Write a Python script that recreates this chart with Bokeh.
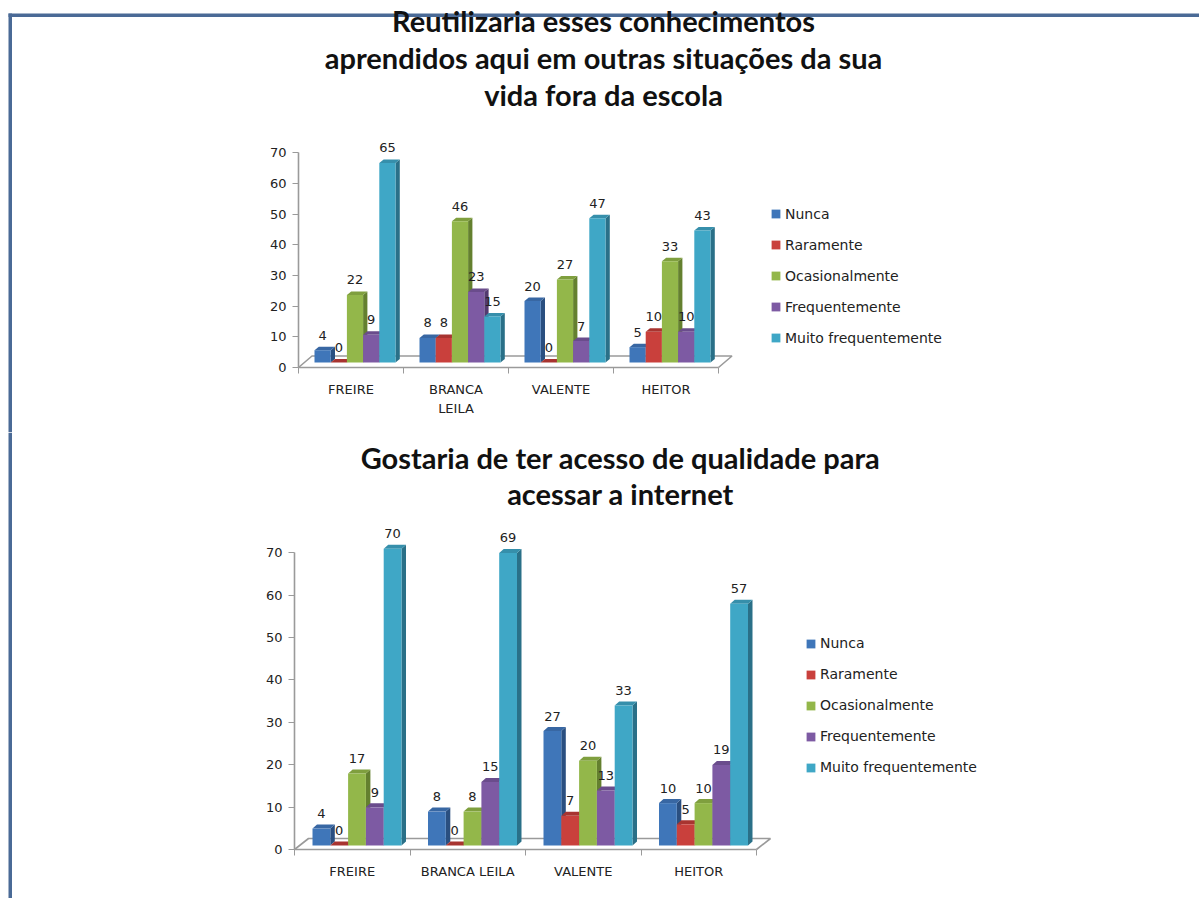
from bokeh.plotting import figure
from bokeh.layouts import column
from bokeh.models import BoxAnnotation, FixedTicker, Legend, LegendItem
from bokeh.core.properties import value
from bokeh.embed import file_html
from bokeh.resources import INLINE

series_names = ["Nunca", "Raramente", "Ocasionalmente", "Frequentemente", "Muito frequentemente"]
categories_a = ["FREIRE", "BRANCA\nLEILA", "VALENTE", "HEITOR"]
categories_b = ["FREIRE", "BRANCA LEILA", "VALENTE", "HEITOR"]

# values per series, one number per school
a_nunca = [4, 8, 20, 5]
a_raramente = [0, 8, 0, 10]
a_ocasionalmente = [22, 46, 27, 33]
a_frequentemente = [9, 23, 7, 10]
a_muito = [65, 15, 47, 43]

b_nunca = [4, 8, 27, 10]
b_raramente = [0, 0, 7, 5]
b_ocasionalmente = [17, 8, 20, 10]
b_frequentemente = [9, 15, 13, 19]
b_muito = [70, 69, 33, 57]

y_ticks = [0, 10, 20, 30, 40, 50, 60, 70]

title_a = ["Reutilizaria esses conhecimentos",
           "aprendidos aqui em outras situações da sua",
           "vida fora da escola"]
title_b = ["Gostaria de ter acesso de qualidade para",
           "acessar a internet"]

front_colors = ["#3f76b9", "#c9403c", "#93b74a", "#7d5aa3", "#3fa7c6"]
side_colors = ["#2a4f80", "#7e2b28", "#64802f", "#523a70", "#2a7088"]
top_colors = ["#3867a3", "#a83430", "#7f9f3e", "#6a4c8c", "#368fab"]

FONT = "DejaVu Sans"
TITLE_FONT = "Lato"
FRAME = "#4a6a96"
AXIS = "#9a9a9a"
TEXT = "#222222"
ORIGIN_X = 0
FIG_W = 1199


def chart(series, cats, title, title_cx, title_ys, page_top, page_bottom, ax_x, ax_y,
          cat_w, unit, bar_w, shift, base, depth_x, depth_y, floor_x, floor_y,
          legend_x, legend_first, legend_step, top_border):
    X = lambda px: (px - ax_x) / cat_w
    Y = lambda py: (ax_y - py) / unit
    p = figure(width=FIG_W, height=page_bottom - page_top, output_backend="svg",
               toolbar_location=None,
               x_range=(X(ORIGIN_X), X(ORIGIN_X + FIG_W)), y_range=(Y(page_bottom), Y(page_top)),
               min_border=0, min_border_left=0, min_border_right=0,
               min_border_top=0, min_border_bottom=0)
    p.grid.visible = False
    p.outline_line_color = None
    p.background_fill_color = "white"

    # page frame: annotations, which the plot frame does not clip, so the figures join
    p.add_layout(BoxAnnotation(left=X(8), right=X(11.5),
                               top=Y(13 if top_border else page_top), bottom=Y(page_bottom),
                               fill_color=FRAME, fill_alpha=1, line_color=None, level="underlay"))
    if top_border:
        p.add_layout(BoxAnnotation(left=X(8), right=X(1199), top=Y(13), bottom=Y(16.5),
                                   fill_color=FRAME, fill_alpha=1, line_color=None, level="underlay"))

    # floor
    n = len(cats)
    dxf, dyf = floor_x / cat_w, floor_y / unit
    p.line([0, dxf, n + dxf, n], [0, dyf, dyf, 0], line_color=AXIS, line_width=1.6)

    # bars
    dx, dy = depth_x / cat_w, depth_y / unit
    w = bar_w / cat_w
    b0 = base / unit
    off = shift / cat_w
    renderers = []
    label_x, label_y, label_t = [], [], []
    for s, vals in enumerate(series):
        cx = [i + 0.5 + off + (s - 2) * w for i in range(n)]
        side_xs = [[c + w / 2, c + w / 2 + dx, c + w / 2 + dx, c + w / 2] for c in cx]
        side_ys = [[b0, b0 + dy, b0 + v + dy, b0 + v] for v in vals]
        top_xs = [[c - w / 2, c - w / 2 + dx, c + w / 2 + dx, c + w / 2] for c in cx]
        top_ys = [[b0 + v, b0 + v + dy, b0 + v + dy, b0 + v] for v in vals]
        p.patches(side_xs, side_ys, fill_color=side_colors[s], line_color=None)
        p.patches(top_xs, top_ys, fill_color=top_colors[s], line_color=None)
        r = p.vbar(x=cx, top=[b0 + v for v in vals], bottom=b0, width=w,
                   fill_color=front_colors[s], line_color=None)
        renderers.append(r)
        label_x += cx
        label_y += [b0 + v for v in vals]
        label_t += [str(v) for v in vals]

    p.text(x=label_x, y=label_y, text=label_t, y_offset=-15,
           text_font=value(FONT), text_font_size="13px", text_color=TEXT,
           text_align="center", text_baseline="middle")

    # titles
    p.text(x=[X(title_cx)] * len(title), y=[Y(t) for t in title_ys], text=title,
           text_font=value(TITLE_FONT), text_font_style="bold", text_font_size="29px",
           text_color="#111111", text_align="center", text_baseline="middle")

    # axes
    xa = p.xaxis[0]
    xa.fixed_location = 0
    xa.bounds = (0, n)
    xa.ticker = FixedTicker(ticks=[i + 0.5 for i in range(n)], minor_ticks=list(range(n + 1)))
    xa.major_label_overrides = {i + 0.5: c for i, c in enumerate(cats)}
    xa.major_tick_out = 0
    xa.major_tick_in = 0
    xa.minor_tick_out = 6
    xa.minor_tick_in = 0
    xa.major_label_standoff = 8
    xa.major_label_text_line_height = 1.3
    ya = p.yaxis[0]
    ya.fixed_location = 0
    ya.bounds = (y_ticks[0], y_ticks[-1])
    ya.ticker = FixedTicker(ticks=y_ticks)
    ya.major_tick_out = 6
    ya.major_tick_in = 0
    ya.minor_tick_out = 0
    ya.minor_tick_in = 0
    ya.major_label_standoff = 6
    for a in (xa, ya):
        a.axis_line_color = AXIS
        a.axis_line_width = 1.6
        a.major_tick_line_color = AXIS
        a.minor_tick_line_color = AXIS
        a.major_label_text_font = FONT
        a.major_label_text_font_size = "13px"
        a.major_label_text_color = TEXT

    # legend
    legend = Legend(
        items=[LegendItem(label=nm, renderers=[r]) for nm, r in zip(series_names, renderers)],
        location=(legend_x - ORIGIN_X, page_bottom - (legend_first + 4 * legend_step + 8)),
        orientation="vertical", border_line_color=None, background_fill_alpha=0,
        padding=0, margin=0, spacing=int(round(legend_step - 16)), glyph_width=11, glyph_height=11,
        label_standoff=4, label_height=14, label_width=160,
        label_text_font=FONT, label_text_font_size="14px", label_text_color=TEXT)
    p.add_layout(legend)
    return p


top = chart([a_nunca, a_raramente, a_ocasionalmente, a_frequentemente, a_muito],
            categories_a, title_a, 603, [20, 57, 94], 0, 432, 298, 367,
            105, 3.07, 16.2, 4, 5, 4.3, 3.5, 13.5, 11.5, 770, 213, 31.2, True)
bottom = chart([b_nunca, b_raramente, b_ocasionalmente, b_frequentemente, b_muito],
               categories_b, title_b, 620, [457, 493], 432, 898, 294, 849,
               115.5, 4.24, 17.8, 4.75, 4, 4.5, 4, 14, 11, 805, 644, 30.8, False)

page = column(top, bottom, spacing=0)
open("out.html", "w").write(file_html(page, INLINE))
